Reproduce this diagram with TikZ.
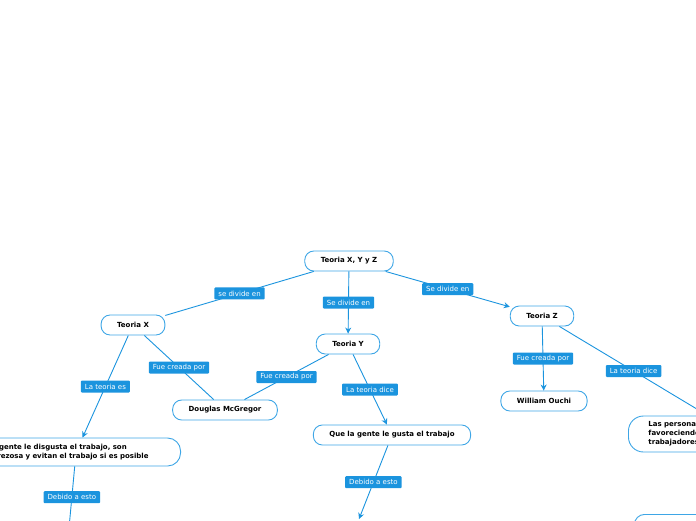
\documentclass[tikz,border=0pt]{standalone}
\usepackage{fontspec}
\setmainfont{DejaVu Sans}
\usetikzlibrary{arrows.meta}
\definecolor{mmblue}{RGB}{27,148,222}
\definecolor{mmline}{RGB}{62,166,230}

\begin{document}
\begin{tikzpicture}[
  x = 1pt, y = -1pt,
  > = {Stealth[length=6pt, width=6pt]},
  line width = 0.9pt,
  font = \fontsize{7}{9}\selectfont
  ]

  \tikzstyle{idea}=[
  draw = mmline,
  fill = white,
  rounded corners = 9pt,
  minimum height = 20pt,
  inner xsep = 16pt,
  font = \fontsize{7}{9}\selectfont\bfseries
  ]

  \tikzstyle{linktext}=[
  fill = mmblue,
  text = white,
  rounded corners = 1pt,
  inner xsep = 4pt,
  inner ysep = 2pt,
  minimum height = 12pt
  ]

  \tikzstyle{every edge}=[draw = mmblue]

  \clip (0,0) rectangle (696,520);

  \node[idea] (root) at (349,261) {Teoria X, Y y Z};
  \node[idea] (tx) at (133,325) {Teoria X};
  \node[idea] (ty) at (348,344) {Teoria Y};
  \node[idea] (tz) at (542,316) {Teoria Z};
  \node[idea] (mcgregor) at (225,410) {Douglas McGregor};
  \node[idea] (ouchi) at (544,401) {William Ouchi};
  \node[idea] (gusta) at (392,435) {Que la gente le gusta el trabajo};
  \node[idea, anchor=east, text width=177pt, align=left,
    rounded corners=13pt, minimum height=28pt] (disgusta) at (181,452)
    {La gente le disgusta el trabajo, son\\perezosa y evitan el trabajo si es posible};
  \node[idea, anchor=west, text width=180pt, align=left, inner xsep=20pt,
    rounded corners=15pt, minimum height=36pt] (personas) at (628,434)
    {Las personas\\favoreciendo\\trabajadores};
  \node[idea, anchor=north west, minimum width=160pt, minimum height=30pt,
    rounded corners=10pt] (abajo) at (634,514) {};

  % free ends below the page
  \coordinate (finx) at (69,528);
  \coordinate (finy) at (359,519);

  \path (root) edge node[linktext] {se divide en} (tx);
  \path[->] (root) edge node[linktext] {Se divide en} (ty);
  \path[->] (root) edge node[linktext] {Se divide en} (tz);
  \path[->] (tx) edge node[linktext] {La teoria es} (disgusta);
  \path (tx) edge node[linktext] {Fue creada por} (mcgregor);
  \path (ty) edge node[linktext] {Fue creada por} (mcgregor);
  \path[->] (ty) edge node[linktext] {La teoria dice} (gusta);
  \path[->] (tz) edge node[linktext] {Fue creada por} (ouchi);
  \path (tz) edge node[linktext] {La teoria dice} (personas);
  \path (disgusta) edge node[linktext] {Debido a esto} (finx);
  \path[->] (gusta) edge node[linktext] {Debido a esto} (finy);

\end{tikzpicture}
\end{document}
